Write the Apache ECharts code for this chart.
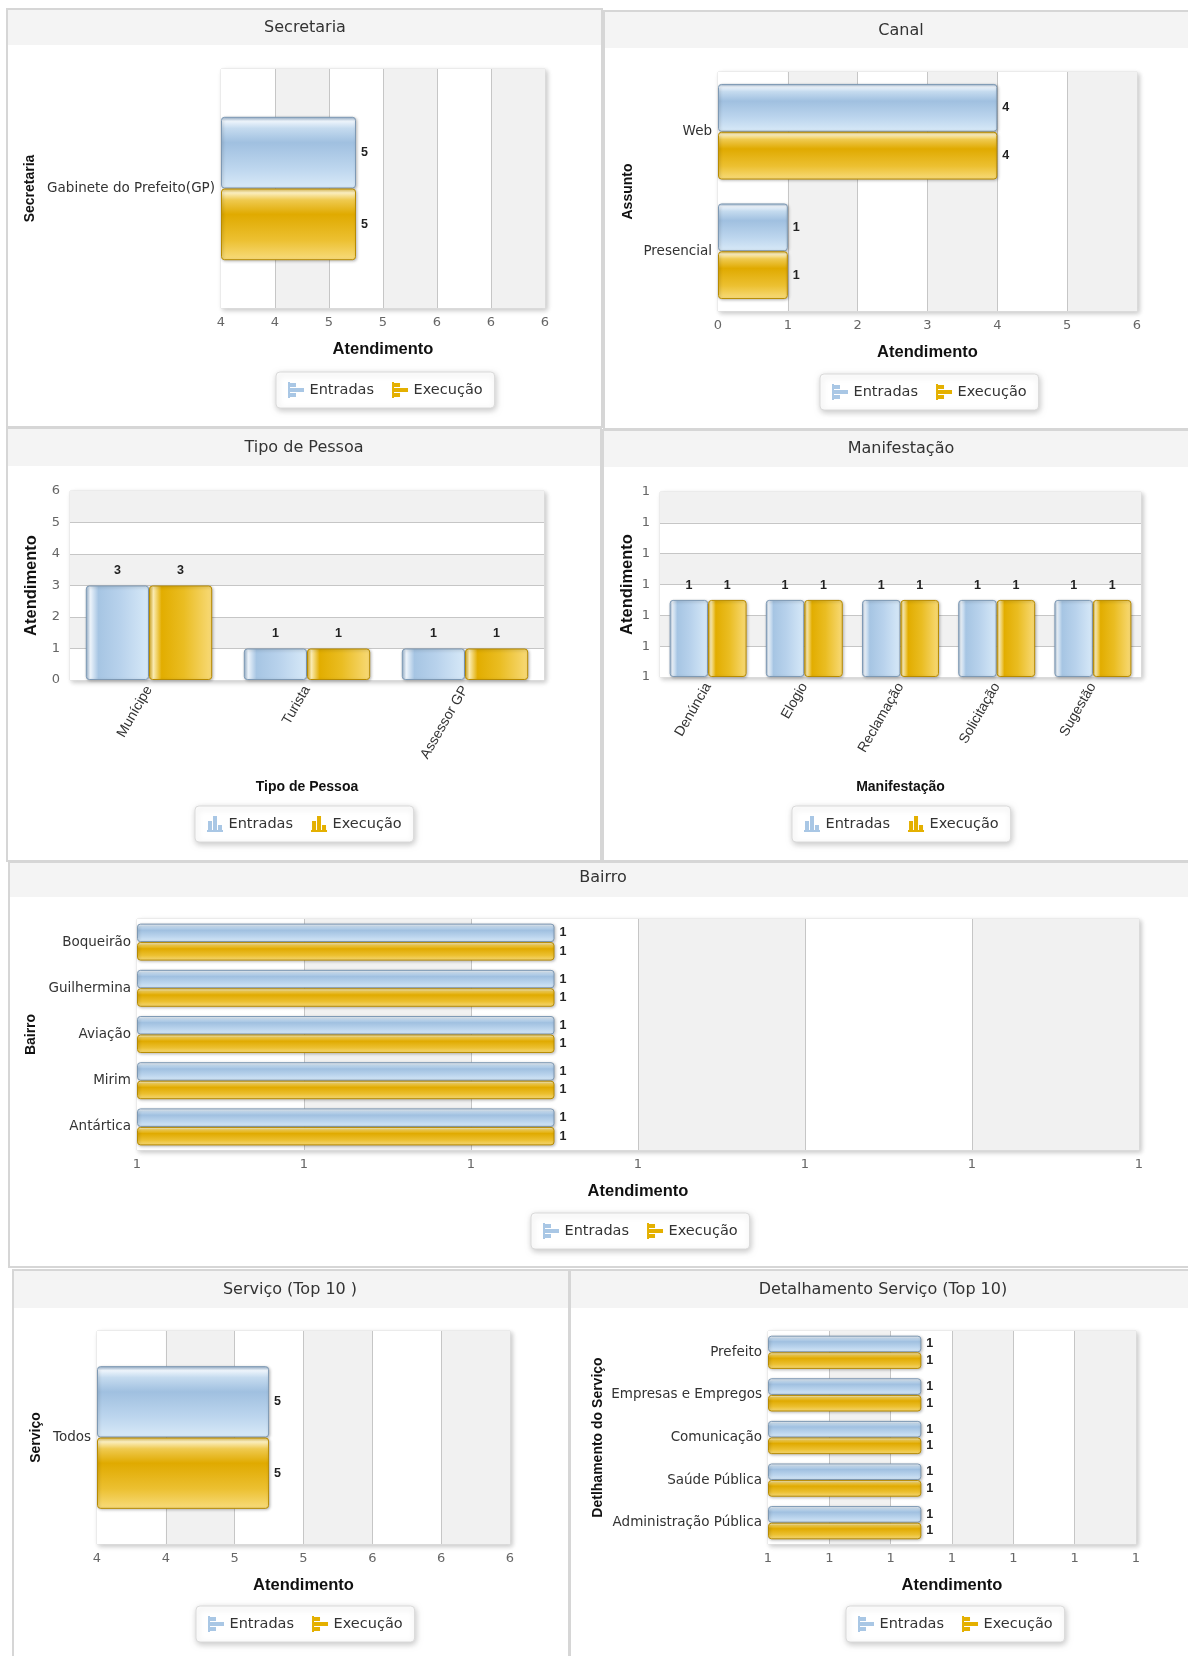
<!DOCTYPE html>
<html><head><meta charset="utf-8">
<script src="https://cdn.jsdelivr.net/npm/echarts@6/dist/echarts.min.js"></script>
<style>
html,body{margin:0;padding:0;background:#fff;}
#wrap{position:relative;width:1188px;height:1656px;overflow:hidden;background:#fff;}
.panel{position:absolute;border:2px solid #d6d6d6;box-sizing:border-box;background:#fff;overflow:hidden;}
.panel .hdr{position:absolute;left:0;right:0;top:0;background:#f4f4f4;}
#chart{position:absolute;left:0;top:0;width:1188px;height:1656px;}
</style></head>
<body><div id="wrap">
<div class="panel" style="left:6px;top:8px;width:597px;height:420px"><div class="hdr" style="height:35px"></div></div>
<div class="panel" style="left:603px;top:10px;width:592px;height:420px"><div class="hdr" style="height:36px"></div></div>
<div class="panel" style="left:6px;top:427px;width:596px;height:435px"><div class="hdr" style="height:37px"></div></div>
<div class="panel" style="left:602px;top:429px;width:592px;height:433px"><div class="hdr" style="height:36px"></div></div>
<div class="panel" style="left:8px;top:861px;width:1186px;height:407px"><div class="hdr" style="height:34px"></div></div>
<div class="panel" style="left:12px;top:1269px;width:558px;height:400px"><div class="hdr" style="height:37px"></div></div>
<div class="panel" style="left:569px;top:1269px;width:626px;height:400px"><div class="hdr" style="height:37px"></div></div>
<div id="chart"></div></div>
<script>
// ---------- data ----------
const seriesNames = ['Entradas', 'Execução'];
const panelTitles = ['Secretaria', 'Canal', 'Tipo de Pessoa', 'Manifestação', 'Bairro', 'Serviço (Top 10 )', 'Detalhamento Serviço (Top 10)'];

const secretariaCats = ['Gabinete do Prefeito(GP)'];
const secretariaEntradas = [5];
const secretariaExecucao = [5];

const canalCats = ['Web', 'Presencial'];
const canalEntradas = [4, 1];
const canalExecucao = [4, 1];

const tipoCats = ['Munícipe', 'Turista', 'Assessor GP'];
const tipoEntradas = [3, 1, 1];
const tipoExecucao = [3, 1, 1];

const manifCats = ['Denúncia', 'Elogio', 'Reclamação', 'Solicitação', 'Sugestão'];
const manifEntradas = [1, 1, 1, 1, 1];
const manifExecucao = [1, 1, 1, 1, 1];

const bairroCats = ['Boqueirão', 'Guilhermina', 'Aviação', 'Mirim', 'Antártica'];
const bairroEntradas = [1, 1, 1, 1, 1];
const bairroExecucao = [1, 1, 1, 1, 1];

const servicoCats = ['Todos'];
const servicoEntradas = [5];
const servicoExecucao = [5];

const detalheCats = ['Prefeito', 'Empresas e Empregos', 'Comunicação', 'Saúde Pública', 'Administração Pública'];
const detalheEntradas = [1, 1, 1, 1, 1];
const detalheExecucao = [1, 1, 1, 1, 1];

// value-axis tick scales (labels are the rounded tick values)
const scaleFourToSix = { min: 4, max: 6.4, interval: 0.4 };
const scaleZeroToSix = { min: 0, max: 6, interval: 1 };
const scaleAroundOne = { min: 0.8, max: 1.28, interval: 0.08 };

// ---------- styles ----------
function grad(horizontalBars, stops) {
  return horizontalBars
    ? { type: 'linear', x: 0, y: 0, x2: 0, y2: 1, colorStops: stops }
    : { type: 'linear', x: 0, y: 0, x2: 1, y2: 0, colorStops: stops };
}
const blueStops = [
  { offset: 0, color: '#9ab6d2' }, { offset: 0.06, color: '#eef5fc' }, { offset: 0.16, color: '#c5dbef' },
  { offset: 0.36, color: '#a0c0e0' }, { offset: 0.72, color: '#bdd6ee' }, { offset: 1, color: '#d9eaf8' }];
const goldStops = [
  { offset: 0, color: '#e6c45a' }, { offset: 0.06, color: '#fbefc0' }, { offset: 0.16, color: '#efca50' },
  { offset: 0.36, color: '#e0aa00' }, { offset: 0.72, color: '#ecc031' }, { offset: 1, color: '#f8dc7c' }];
const blueStopsV = [
  { offset: 0, color: '#9ab6d2' }, { offset: 0.07, color: '#eef5fc' }, { offset: 0.2, color: '#a6c5e3' },
  { offset: 0.55, color: '#b8d2ec' }, { offset: 1, color: '#d7e9f8' }];
const goldStopsV = [
  { offset: 0, color: '#dcae22' }, { offset: 0.07, color: '#fbecb2' }, { offset: 0.2, color: '#e2ad00' },
  { offset: 0.55, color: '#eabd22' }, { offset: 1, color: '#f8da78' }];

const iconH = 'path://M0,0H2V16H0Z M2,1H8V5H2Z M2,6H16V10H2Z M2,11H8V15H2Z';
const iconV = 'path://M0,14H16V16H0Z M1,5H5V14H1Z M6,0H10V14H6Z M11,9H15V14H11Z';

const grids = [], xAxes = [], yAxes = [], series = [], legends = [], graphics = [];

function addPanel(cfg) {
  const i = grids.length;
  grids.push({
    left: cfg.grid[0], top: cfg.grid[1], width: cfg.grid[2], height: cfg.grid[3],
    show: true, backgroundColor: '#fff', borderWidth: 1, borderColor: '#e2e2e2',
    shadowBlur: 5, shadowColor: 'rgba(0,0,0,0.22)', shadowOffsetX: 2, shadowOffsetY: 2,
    containLabel: false, outerBoundsMode: 'none'
  });
  const valueAxis = {
    gridIndex: i, type: 'value', min: cfg.scale.min, max: cfg.scale.max, interval: cfg.scale.interval,
    startValue: cfg.scale.min,
    axisLine: { show: false }, axisTick: { show: false },
    axisLabel: { color: '#666', fontSize: 13, fontFamily: 'DejaVu Sans', margin: cfg.h ? 8 : 10,
      formatter: v => String(Math.round(v)) },
    splitLine: { show: true, showMinLine: false, showMaxLine: false, lineStyle: { color: '#c6c6c6', width: 1 } },
    splitArea: { show: true, areaStyle: { color: ['#ffffff', '#f1f1f1'] } },
    name: 'Atendimento', nameLocation: 'middle', nameGap: cfg.valueNameGap,
    nameRotate: cfg.h ? 0 : 90,
    nameTextStyle: { fontWeight: 'bold', fontSize: 16.5, color: '#111', fontFamily: 'Liberation Sans' }
  };
  const catAxis = {
    gridIndex: i, type: 'category', data: cfg.cats, inverse: !!cfg.h,
    axisLine: { show: false }, axisTick: { show: false }, splitLine: { show: false },
    axisLabel: cfg.h
      ? { color: '#333', fontSize: 13.5, fontFamily: 'DejaVu Sans', margin: 6, interval: 0 }
      : { color: '#333', fontSize: 14, fontFamily: 'Liberation Sans', margin: 7, interval: 0, rotate: 60 },
    name: cfg.catName, nameLocation: 'middle', nameGap: cfg.catNameGap, nameRotate: cfg.h ? 90 : 0,
    nameTextStyle: { fontWeight: 'bold', fontSize: 14, color: '#111', fontFamily: 'Liberation Sans' }
  };
  if (cfg.h) { xAxes.push(valueAxis); yAxes.push(catAxis); }
  else { xAxes.push(catAxis); yAxes.push(valueAxis); }

  const vals = [cfg.entradas, cfg.execucao];
  const stops = cfg.h ? [blueStops, goldStops] : [blueStopsV, goldStopsV];
  const borders = ['#7e99b4', '#b88b00'];
  seriesNames.forEach((nm, k) => {
    series.push({
      type: 'bar', name: nm, xAxisIndex: i, yAxisIndex: i, data: vals[k],
      barGap: '0%', barCategoryGap: cfg.gap,
      itemStyle: { color: grad(cfg.h, stops[k]), borderColor: borders[k], borderWidth: 1, borderRadius: 3,
        shadowBlur: 3, shadowColor: 'rgba(0,0,0,0.25)', shadowOffsetX: 1, shadowOffsetY: 1 },
      label: { show: true, position: cfg.h ? 'right' : 'top', distance: cfg.h ? 5 : 8,
        fontWeight: 'bold', fontSize: 12.5, color: '#222', fontFamily: 'Liberation Sans' },
      emphasis: { disabled: true }
    });
  });
  legends.push({
    left: cfg.legend[0], top: cfg.legend[1], orient: 'horizontal', icon: cfg.h ? iconH : iconV,
    itemWidth: 17, itemHeight: 16, itemGap: 18, padding: [10, 12],
    backgroundColor: '#fff', borderColor: '#dadada', borderWidth: 1, borderRadius: 4,
    shadowBlur: 6, shadowColor: 'rgba(0,0,0,0.22)', shadowOffsetX: 1, shadowOffsetY: 2,
    textStyle: { fontSize: 14.5, color: '#333', fontFamily: 'DejaVu Sans' },
    itemStyle: { borderWidth: 0 },
    data: [
      { name: seriesNames[0], itemStyle: { color: '#a9c7e5', borderWidth: 0 } },
      { name: seriesNames[1], itemStyle: { color: '#e4b000', borderWidth: 0 } }
    ],
    selectedMode: false
  });
  graphics.push({
    type: 'text', x: cfg.title[0], y: cfg.title[1], silent: true,
    style: { text: panelTitles[i], fill: '#333', font: '16px "DejaVu Sans"', align: 'center', verticalAlign: 'middle' }
  });
}

addPanel({ h: true, cats: secretariaCats, entradas: secretariaEntradas, execucao: secretariaExecucao,
  scale: scaleFourToSix, grid: [221, 69, 324, 239], gap: '40%', catName: 'Secretaria', catNameGap: 184,
  valueNameGap: 33, legend: [276, 372], title: [305, 28] });
addPanel({ h: true, cats: canalCats, entradas: canalEntradas, execucao: canalExecucao,
  scale: scaleZeroToSix, grid: [718, 72, 419, 239], gap: '20%', catName: 'Assunto', catNameGap: 83,
  valueNameGap: 33, legend: [820, 374], title: [901, 31] });
addPanel({ h: false, cats: tipoCats, entradas: tipoEntradas, execucao: tipoExecucao,
  scale: scaleZeroToSix, grid: [70, 491, 474, 189], gap: '20%', catName: 'Tipo de Pessoa', catNameGap: 100,
  valueNameGap: 30, legend: [195, 806], title: [304, 448] });
addPanel({ h: false, cats: manifCats, entradas: manifEntradas, execucao: manifExecucao,
  scale: scaleAroundOne, grid: [660, 492, 481, 185], gap: '20%', catName: 'Manifestação', catNameGap: 103,
  valueNameGap: 24, legend: [792, 806], title: [901, 449] });
addPanel({ h: true, cats: bairroCats, entradas: bairroEntradas, execucao: bairroExecucao,
  scale: scaleAroundOne, grid: [137, 919, 1002, 231], gap: '20%', catName: 'Bairro', catNameGap: 97,
  valueNameGap: 33, legend: [531, 1213], title: [603, 878] });
addPanel({ h: true, cats: servicoCats, entradas: servicoEntradas, execucao: servicoExecucao,
  scale: scaleFourToSix, grid: [97, 1331, 413, 213], gap: '33%', catName: 'Serviço', catNameGap: 54,
  valueNameGap: 33, legend: [196, 1606], title: [290, 1290] });
addPanel({ h: true, cats: detalheCats, entradas: detalheEntradas, execucao: detalheExecucao,
  scale: scaleAroundOne, grid: [768, 1331, 368, 213], gap: '22%', catName: 'Detlhamento do Serviço', catNameGap: 163,
  valueNameGap: 33, legend: [846, 1606], title: [883, 1290] });

const chart = echarts.init(document.getElementById('chart'), null, { renderer: 'canvas' });
chart.setOption({
  backgroundColor: 'transparent',
  animation: false,
  textStyle: { fontFamily: 'DejaVu Sans' },
  grid: grids, xAxis: xAxes, yAxis: yAxes, series: series, legend: legends,
  graphic: { elements: graphics },
  tooltip: { show: false }
});
</script>
</body></html>
